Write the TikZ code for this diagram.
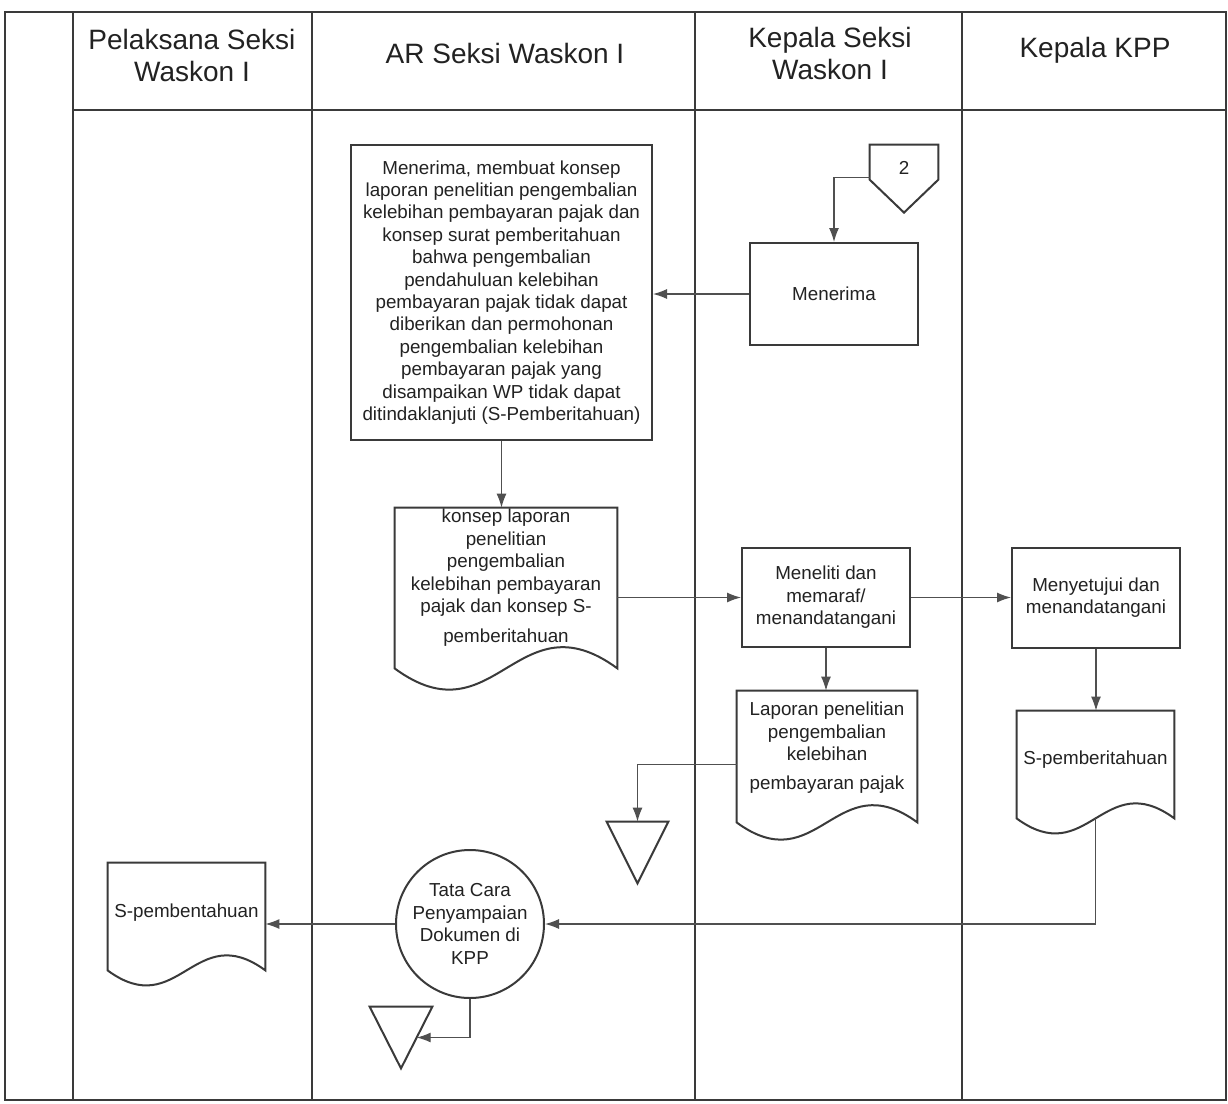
\documentclass[tikz,border=0pt]{standalone}
\usepackage{fontspec}
\setmainfont{Liberation Sans}
\usetikzlibrary{calc,arrows.meta}
\definecolor{ink}{HTML}{222222}
\definecolor{edgec}{HTML}{3A3A3A}
\definecolor{wirec}{HTML}{505050}
\newcommand\bodyfnt{\fontsize{9.4}{11.2}\selectfont}
\newcommand\headfnt{\fontsize{14}{16}\selectfont}
\newcommand\docoutline[1]{%
  \draw[shapeline] let \p1=(#1.south west), \p2=(#1.south east),
     \n1={0.45*(\x2-\x1)}, \n2={0.33*(\x2-\x1)} in
     (#1.north west) -- (#1.north east) -- (\p2)
     .. controls ({\x2-\n1},{\y2+\n2}) and ({\x1+\n1},{\y1-\n2}) .. (\p1) -- cycle;}
\tikzset{
  shapeline/.style={draw=edgec, line width=1pt},
  procbox/.style={shapeline, align=center, font=\bodyfnt, text=ink, inner sep=0pt},
  docbox/.style={inner sep=0pt, draw=none},
  doctext/.style={align=center, font=\bodyfnt, text=ink, inner sep=0pt},
  wire/.style={draw=wirec, line width=0.6pt},
  arrowc/.style={wire, -{Latex[length=7pt,width=5pt]}},
  lane/.style={draw=edgec, line width=1.1pt},
  headtext/.style={align=center, font=\headfnt, text=ink, inner sep=0pt},
}
\begin{document}
\begin{tikzpicture}[x=0.5pt,y=-0.5pt]
\useasboundingbox (0,0) rectangle (1228,1104);
\fill[white] (0,0) rectangle (1228,1104);

% frame and lanes
\draw[lane] (5,12) rectangle (1226,1100);
\draw[lane] (73,12) -- (73,1100);
\draw[lane] (312,12) -- (312,1100);
\draw[lane] (695,12) -- (695,1100);
\draw[lane] (962,12) -- (962,1100);
\draw[lane] (73,110) -- (1226,110);

% headers
\node[headtext] (h1) at (192,55) {Pelaksana Seksi\\Waskon I};
\node[headtext] (h2) at (505,53) {AR Seksi Waskon I};
\node[headtext] (h3) at (830,53) {Kepala Seksi\\Waskon I};
\node[headtext] (h4) at (1095,50) {Kepala KPP};

% big process box
\node[procbox, minimum width=150.5pt, minimum height=147.5pt] (A) at (501.5,292.5)
 {Menerima, membuat konsep\\laporan penelitian pengembalian\\kelebihan pembayaran pajak dan\\konsep surat pemberitahuan\\bahwa pengembalian\\pendahuluan kelebihan\\pembayaran pajak tidak dapat\\diberikan dan permohonan\\pengembalian kelebihan\\pembayaran pajak yang\\disampaikan WP tidak dapat\\ditindaklanjuti (S-Pemberitahuan)};

% off-page connector 2
\node[docbox, minimum width=34pt, minimum height=23pt, font=\bodyfnt, text=ink] (c2) at (904,168) {2};
\draw[shapeline] (c2.north west) -- (c2.north east) -- ($(c2.north east)+(0,35)$)
  -- ($(c2.north)+(0,68)$) -- ($(c2.north west)+(0,35)$) -- cycle;
\coordinate (c2w) at ($(c2.north west)+(0,33)$);

% Menerima
\node[procbox, minimum width=84pt, minimum height=51pt] (B) at (834,294) {Menerima};

% document 1
\node[docbox, minimum width=111pt, minimum height=80pt] (D1) at (506,588) {};
\docoutline{D1}
\node[doctext] (D1t) at (506,578) {konsep laporan\\penelitian\\pengembalian\\kelebihan pembayaran\\pajak dan konsep S-\\[4pt]pemberitahuan};

% Meneliti
\node[procbox, minimum width=84pt, minimum height=49.5pt] (M) at (826,597.5) {Meneliti dan\\memaraf/\\menandatangani};

% Menyetujui
\node[procbox, minimum width=84pt, minimum height=50pt] (K) at (1096,597.5) {Menyetujui dan\\menandatangani};

% document 2
\node[docbox, minimum width=90pt, minimum height=65.5pt] (D2) at (827,756.5) {};
\docoutline{D2}
\node[doctext] (D2t) at (827,748) {Laporan penelitian\\pengembalian\\kelebihan\\[3.5pt]pembayaran pajak};

% document 3
\node[docbox, minimum width=78.5pt, minimum height=53.5pt] (D3) at (1095.5,764.5) {};
\docoutline{D3}
\node[doctext] (D3t) at (1095.5,760) {S-pemberitahuan};

% document 4
\node[docbox, minimum width=78.5pt, minimum height=53.5pt] (D4) at (186.5,916.5) {};
\docoutline{D4}
\node[doctext] (D4t) at (186.5,913) {S-pembentahuan};

% circle
\node[procbox, circle, minimum size=74pt] (T) at (470,924) {Tata Cara\\Penyampaian\\Dokumen di\\KPP};

% triangles
\node[docbox, minimum width=30.5pt, minimum height=30.5pt] (tri1) at (637.5,852.5) {};
\draw[shapeline] (tri1.north west) -- (tri1.north east) -- (tri1.south) -- cycle;
\node[docbox, minimum width=31pt, minimum height=30.5pt] (tri2) at (401,1037.5) {};
\draw[shapeline] (tri2.north west) -- (tri2.north east) -- (tri2.south) -- cycle;

% connectors
\draw[arrowc] (c2w) -| (B.north);
\draw[arrowc] (B.west) -- (B.west -| A.east);
\draw[arrowc] (A.south) -- (A.south |- D1.north);
\draw[arrowc] (M.west -| D1.east) -- (M.west);
\draw[arrowc] (M.east) -- (K.west);
\draw[arrowc] (M.south) -- (M.south |- D2.north);
\draw[arrowc] (K.south) -- (K.south |- D3.north);
\draw[arrowc] ([yshift=-4pt]D2.west) -| (tri1.north);
\draw[arrowc] (D3.south) |- (T.east);
\draw[arrowc] (T.west) -- (T.west -| D4.east);
\draw[arrowc] (T.south) |- ($(tri2.north east)!0.5!(tri2.south)$);
\end{tikzpicture}
\end{document}
